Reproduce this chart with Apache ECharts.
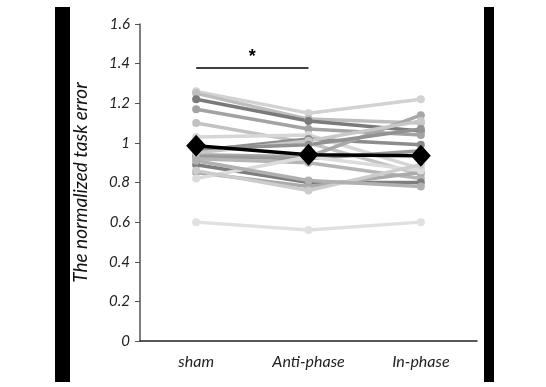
<!DOCTYPE html>
<html><head><meta charset="utf-8">
<script src="https://cdn.jsdelivr.net/npm/echarts@6/dist/echarts.min.js"></script>
<style>html,body{margin:0;padding:0;background:#fff}#c{width:546px;height:387px}</style>
</head><body><div id="c"></div>
<script>
var categories = ['sham', 'Anti-phase', 'In-phase'];
var yTicks = [0, 0.2, 0.4, 0.6, 0.8, 1, 1.2, 1.4, 1.6];
// individual subjects: [sham, anti-phase, in-phase]
var s01 = [1.26, 1.15, 1.22];
var s02 = [1.25, 1.12, 1.10];
var s03 = [1.22, 1.11, 1.06];
var s04 = [1.17, 1.07, 1.04];
var s05 = [1.10, 1.00, 0.84];
var s06 = [1.03, 1.04, 0.87];
var s07 = [0.96, 1.02, 0.99];
var s08 = [0.94, 0.93, 1.14];
var s09 = [0.93, 0.92, 0.96];
var s10 = [0.92, 0.90, 0.82];
var s11 = [0.89, 0.80, 0.80];
var s12 = [0.85, 0.78, 0.85];
var s13 = [0.82, 0.93, 0.86];
var s14 = [0.86, 0.76, 0.89];
var s15 = [0.95, 1.01, 1.11];
var s16 = [0.91, 0.81, 0.78];
var s17 = [0.60, 0.56, 0.60];
var s18 = [0.97, 0.99, 1.07];
var meanValues = [0.985, 0.94, 0.935];
var sigY = 1.38;

var subjects = [s01,s02,s03,s04,s05,s06,s07,s08,s09,s10,s11,s12,s13,s14,s15,s16,s17,s18];
var grays = ['#d2d2d2','#bdbdbd','#7a7a7a','#a3a3a3','#c2c2c2','#d6d6d6','#8c8c8c','#a8a8a8','#9a9a9a','#b5b5b5','#7d7d7d','#aaaaaa','#dcdcdc','#cccccc','#c8c8c8','#b0b0b0','#e0e0e0','#929292'];

var series = subjects.map(function(d, i){
  return {type:'line', data:d, symbol:'circle', symbolSize:8, silent:true,
    lineStyle:{color:grays[i], width:3.5}, itemStyle:{color:grays[i]}, z:2};
});
series.push({type:'line', data:meanValues, symbol:'diamond', symbolSize:[20,22],
  lineStyle:{color:'#000', width:3.5}, itemStyle:{color:'#000'}, z:5,
  markLine:{silent:true, symbol:'none', lineStyle:{color:'#000', width:1.5, type:'solid'},
    label:{show:true, position:'insideMiddleTop', formatter:'*', color:'#000', fontSize:18, fontWeight:'bold', distance:2},
    data:[[{coord:['sham', sigY]}, {coord:['Anti-phase', sigY]}]]}
});

var chart = echarts.init(document.getElementById('c'));
chart.setOption({
  animation:false,
  grid:{left:140, right:69, top:24, bottom:46},
  xAxis:{type:'category', data:categories, boundaryGap:true,
    axisLine:{lineStyle:{color:'#222', width:1.5}}, axisTick:{show:false},
    axisLabel:{fontFamily:'Lato', fontStyle:'italic', fontSize:16, color:'#222', margin:13}},
  yAxis:{type:'value', min:0, max:1.6, interval:0.2, splitLine:{show:false},
    name:'The normalized task error', nameLocation:'middle', nameGap:50,
    nameTextStyle:{fontFamily:'Lato', fontStyle:'italic', fontSize:19, color:'#111'},
    axisLine:{show:true, lineStyle:{color:'#555', width:1.5}},
    axisTick:{show:true, length:5, lineStyle:{color:'#555'}},
    axisLabel:{fontFamily:'Lato', fontStyle:'italic', fontSize:15, color:'#222', margin:10,
      formatter:function(v){ return yTicks.indexOf(+v.toFixed(1))>=0 ? String(+v.toFixed(1)) : ''; }}},
  graphic:[
    {type:'rect', shape:{x:55, y:7, width:15, height:375}, style:{fill:'#000'}},
    {type:'rect', shape:{x:484, y:7, width:10, height:375}, style:{fill:'#000'}}
  ],
  series:series
});
</script></body></html>
